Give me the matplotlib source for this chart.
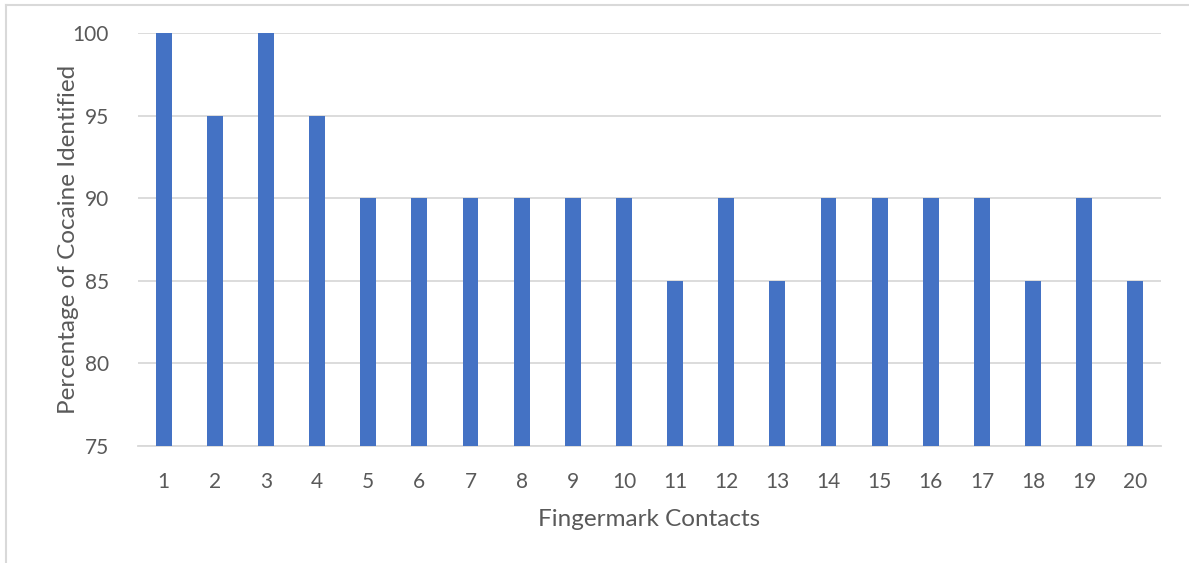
import matplotlib.pyplot as plt
from matplotlib.lines import Line2D

contacts = [str(i) for i in range(1, 21)]
percent = [100, 95, 100, 95, 90, 90, 90, 90, 90, 90,
           85, 90, 85, 90, 90, 90, 90, 85, 90, 85]

plt.rcParams['font.family'] = ['Lato', 'DejaVu Sans']
text_col = '#595959'

fig = plt.figure(figsize=(11.89, 5.63), dpi=100)
ax = fig.add_axes([138 / 1189, 1 - 446 / 563, (1161 - 138) / 1189, (446 - 33) / 563])

ax.bar(range(len(contacts)), [p - 75 for p in percent], bottom=75, width=0.31,
       color='#4472C4', zorder=3)
ax.set_xlim(-0.5, len(contacts) - 0.5)
ax.set_ylim(75, 100)
ax.set_yticks(range(75, 101, 5))
ax.set_xticks(range(len(contacts)))
ax.set_xticklabels(contacts)
ax.yaxis.grid(True, color='#D9D9D9', linewidth=1.3, zorder=0)
for s in ['top', 'right', 'left']:
    ax.spines[s].set_visible(False)
ax.spines['bottom'].set_color('#D9D9D9')
ax.spines['bottom'].set_linewidth(1.3)
ax.tick_params(length=0, labelsize=15, labelcolor=text_col)
ax.tick_params(axis='x', pad=19)
ax.tick_params(axis='y', pad=21)
ax.set_xlabel('Fingermark Contacts', fontsize=17.5, color=text_col, labelpad=12)
ax.set_ylabel('Percentage of Cocaine Identified', fontsize=17.5, color=text_col, labelpad=-5)

# chart border (only top and left visible in crop)
fig.add_artist(Line2D([6 / 1189, 6 / 1189], [0, 1 - 5 / 563], transform=fig.transFigure,
                      color='#D9D9D9', linewidth=1.5))
fig.add_artist(Line2D([6 / 1189, 1], [1 - 5 / 563, 1 - 5 / 563], transform=fig.transFigure,
                      color='#D9D9D9', linewidth=1.5))

fig.savefig('out.png', dpi=100)
